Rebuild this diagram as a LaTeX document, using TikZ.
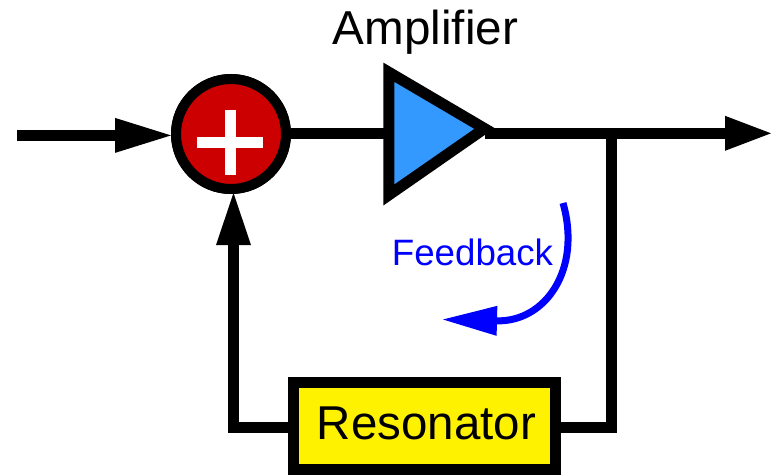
\documentclass[tikz,border=0pt]{standalone}
\usepackage{fontspec}
\setmainfont{Liberation Sans}
\usetikzlibrary{arrows.meta}
\definecolor{sumred}{RGB}{204,0,0}
\definecolor{ampblue}{RGB}{51,153,255}
\tikzset{
  wire/.style={line width=11pt,draw=black},
  bigarrow/.style={wire,-{Triangle[length=56pt,width=35pt,line width=0pt]}},
  bigarrowb/.style={wire,-{Triangle[length=52pt,width=35pt,line width=0pt]}},
  bigarrowc/.style={wire,-{Triangle[length=46pt,width=35pt,line width=0pt]}},
  fbarrow/.style={line width=7pt,draw=blue,-{Triangle[length=54pt,width=30pt,line width=0pt]}},
  summer/.style={circle,draw=black,fill=sumred,line width=10pt,minimum size=110pt,inner sep=0pt},
  resbox/.style={rectangle,draw=black,fill=yellow,line width=11pt,minimum width=262pt,minimum height=87pt,inner sep=0pt,
    text height=27pt,text depth=0pt,font=\fontsize{47.5pt}{50pt}\selectfont},
  ampshape/.style={draw=black,fill=ampblue,line width=11pt,line join=miter,miter limit=10},
  biglabel/.style={anchor=base,inner sep=0pt,font=\fontsize{47.6pt}{50pt}\selectfont},
  fblabel/.style={anchor=base,inner sep=0pt,text=blue,font=\fontsize{36.7pt}{40pt}\selectfont}
}
\begin{document}
\begin{tikzpicture}[x=1pt,y=-1pt]
\useasboundingbox (0,0) rectangle (771,474);
% named positions
\node[summer] (sum) at (231,134) {};
\node[resbox] (res) at (424.5,425.5) {\hspace{4pt}Resonator};
\coordinate (in) at (17,135.4);
\coordinate (sumin) at (171,135.4);
\coordinate (sumbot) at (233.5,193);
\coordinate (cornerL) at (233.5,427);
\coordinate (cornerR) at (611.7,427);
\coordinate (ampT) at (388.8,72.2);
\coordinate (ampB) at (388.8,195);
\coordinate (ampO) at (484.5,128.5);
\coordinate (ampI) at (389,133.3);
\coordinate (junction) at (611.7,133.3);
\coordinate (out) at (771,133.3);
\coordinate (fbstart) at (563,203);
\coordinate (fbend) at (443,319.5);
% connectors
\draw[bigarrow] (in) -- (sumin);
\draw[wire] (sum.east |- ampI) -- (ampI);
\draw[bigarrowc] (ampO |- out) -- (out);
\draw[wire] (res.east |- cornerR) -- (cornerR) -- (junction);
\draw[bigarrowb] (res.west |- cornerL) -- (cornerL) -- (sumbot);
% shapes on top
\node[summer] at (sum) {};
\fill[white] (197.3,137) rectangle (262.7,148);
\fill[white] (224.7,110) rectangle (236,175);
\draw[ampshape] (ampT) -- (ampO) -- (ampB) -- cycle;
\draw[fbarrow] (fbstart) .. controls (582,270) and (545,322) .. (fbend);
% labels
\node[biglabel] (amplabel) at (425.5,44) {Amplifier};
\node[fblabel] (fblabel) at (472.5,265) {Feedback};
\end{tikzpicture}
\end{document}
